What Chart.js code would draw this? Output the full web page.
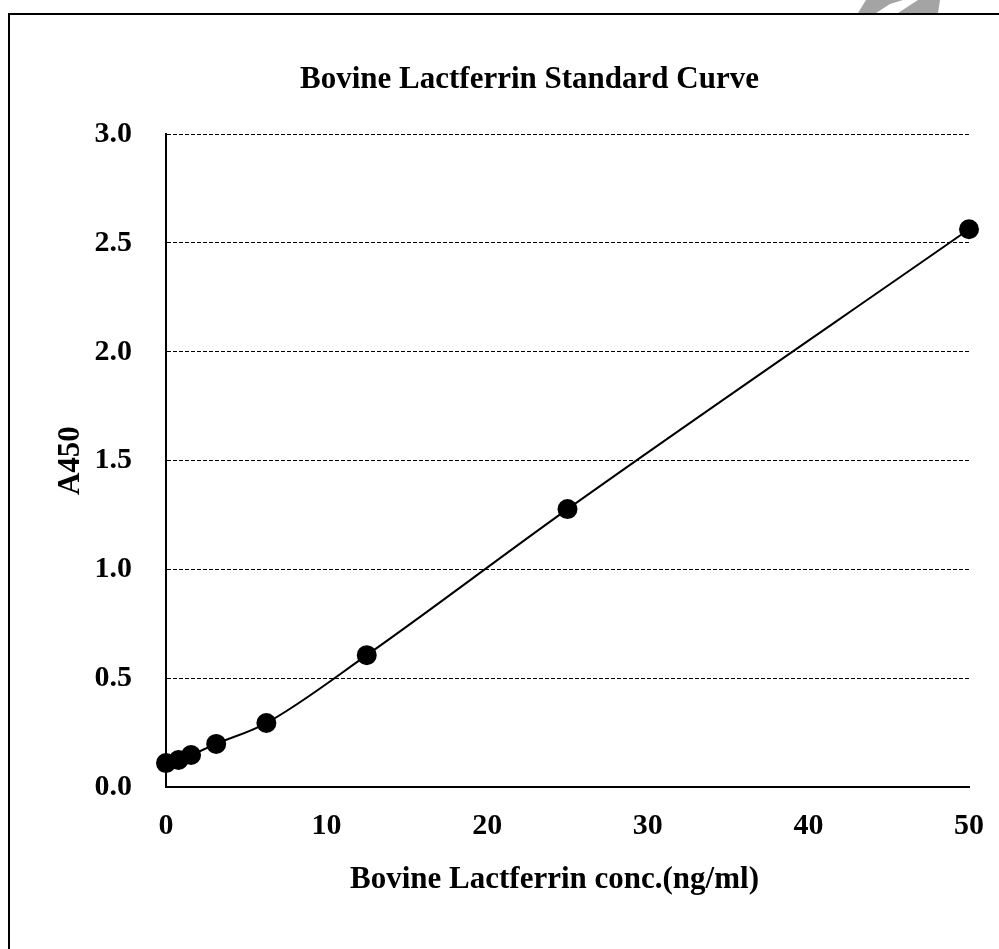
<!DOCTYPE html>
<html lang="en">
<head>
    <meta charset="utf-8">
    <title>Bovine Lactferrin Standard Curve</title>
    <script src="https://cdn.jsdelivr.net/npm/chart.js@4.4.1/dist/chart.umd.min.js"></script>
    <style>
    html, body { margin: 0; padding: 0; background: #fff; }
    #wrap { position: relative; width: 999px; height: 949px; overflow: hidden; }
    #frame { position: absolute; left: 8px; top: 13px; right: -10px; bottom: -10px; border-left: 2px solid #000; border-top: 2px solid #000; }
    #mark { position: absolute; left: 0; top: 0; }
    canvas { position: absolute; left: 0; top: 0; }
    </style>
</head>
<body>
<div id="wrap">
    <svg id="mark" width="999" height="30">
        <polygon points="858,13 866,0 903,0 890,4 876,13" fill="#a4a4a4"/>
        <polygon points="898,13 918,0 940,0 938,13" fill="#a4a4a4"/>
    </svg>
    <div id="frame"></div>
    <canvas id="chart" width="999" height="949"></canvas>
</div>
<script>
// standard concentrations (ng/ml) and absorbance readings
var conc = [0, 0.78, 1.56, 3.125, 6.25, 12.5, 25, 50];
var a450 = [0.110, 0.124, 0.147, 0.198, 0.294, 0.606, 1.277, 2.563];
var xTicks = [0, 10, 20, 30, 40, 50];
var yTicks = [0, 0.5, 1.0, 1.5, 2.0, 2.5, 3.0];

var serif = "'Liberation Serif', 'Times New Roman', serif";

var points = conc.map(function(c, i) { return { x: c, y: a450[i] }; });

// nudge a drawing routine sideways (title block / axis title are off-centre in the original)
function shiftDraw(obj, name, dx) {
    var orig = obj[name];
    obj[name] = function() {
        var ctx = this.ctx;
        ctx.save();
        ctx.translate(dx, 0);
        orig.apply(this, arguments);
        ctx.restore();
    };
}

var chart = new Chart(document.getElementById('chart'), {
    type: 'scatter',
    data: {
        datasets: [{
            label: 'A450',
            data: points,
            showLine: true,
            clip: false,
            borderColor: '#000',
            backgroundColor: '#000',
            borderWidth: 2,
            pointRadius: 9,
            pointHoverRadius: 9,
            cubicInterpolationMode: 'monotone'
        }]
    },
    options: {
        responsive: false,
        animation: false,
        layout: { padding: { left: 0, right: 30, top: 0, bottom: 0 } },
        plugins: {
            legend: { display: false },
            tooltip: { enabled: false },
            title: {
                display: true,
                text: 'Bovine Lactferrin Standard Curve',
                color: '#000',
                font: { family: serif, size: 31, weight: 'bold', lineHeight: 1.2 },
                padding: { top: 61, bottom: 36 }
            }
        },
        scales: {
            x: {
                type: 'linear',
                min: 0,
                max: 50,
                afterBuildTicks: function(s) { s.ticks = xTicks.map(function(v) { return { value: v }; }); },
                afterFit: function(s) { s.height = 162; s.paddingRight = 0; },
                grid: { display: false, drawTicks: false },
                border: { display: true, color: '#000', width: 2 },
                ticks: {
                    color: '#000',
                    padding: 21,
                    font: { family: serif, size: 30, weight: 'bold', lineHeight: 1.2 }
                },
                title: {
                    display: true,
                    text: 'Bovine Lactferrin conc.(ng/ml)',
                    color: '#000',
                    font: { family: serif, size: 31, weight: 'bold', lineHeight: 1.2 },
                    padding: { top: 0, bottom: 50 }
                }
            },
            y: {
                type: 'linear',
                min: 0,
                max: 3,
                afterBuildTicks: function(s) { s.ticks = yTicks.map(function(v) { return { value: v }; }); },
                afterFit: function(s) { s.width = 166; },
                grid: { color: '#000', lineWidth: 1, drawTicks: false },
                border: { display: true, color: '#000', width: 2, dash: [4, 2] },
                ticks: {
                    color: '#000',
                    padding: 34,
                    font: { family: serif, size: 30, weight: 'bold', lineHeight: 1.2 },
                    callback: function(v) { return Number(v).toFixed(1); }
                },
                title: {
                    display: true,
                    text: 'A450',
                    color: '#000',
                    font: { family: serif, size: 31, weight: 'bold', lineHeight: 1.2 },
                    padding: { top: 52, bottom: 0 }
                }
            }
        }
    },
    plugins: [{
        id: 'offsets',
        afterLayout: function(c) {
            if (c.$shifted) return;
            c.$shifted = true;
            shiftDraw(c.titleBlock, 'draw', 45);
            shiftDraw(c.scales.x, 'drawTitle', -13);
        }
    }]
});
</script>
</body>
</html>
